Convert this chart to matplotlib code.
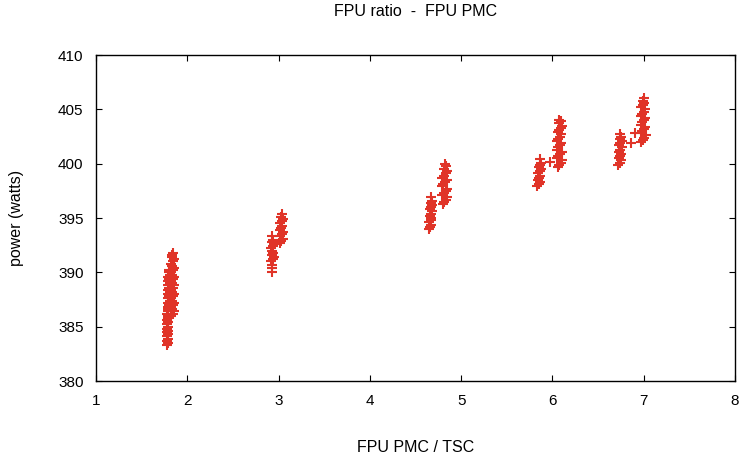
import matplotlib
matplotlib.use("Agg")
import matplotlib.pyplot as plt

plt.rcParams['font.family'] = ['Liberation Sans', 'DejaVu Sans']

# FPU ratio runs (x = FPU PMC / TSC, y = power in watts)
# each run is two dense vertical strips of samples
run1_x = [1.775, 1.785, 1.78, 1.79, 1.775, 1.785, 1.78, 1.79, 1.775, 1.785, 1.78, 1.79,
          1.78, 1.785, 1.79, 1.78, 1.785, 1.79,
          1.785, 1.80, 1.79, 1.81, 1.785, 1.80, 1.79, 1.81, 1.785, 1.80, 1.79, 1.81,
          1.785, 1.80, 1.79, 1.81, 1.795, 1.805,
          1.825, 1.84, 1.85, 1.835, 1.825, 1.84, 1.85, 1.835, 1.825, 1.84, 1.85, 1.835,
          1.825, 1.84, 1.85, 1.835, 1.825, 1.84, 1.85, 1.835, 1.825, 1.84, 1.85, 1.835,
          1.825, 1.84, 1.85, 1.835, 1.83, 1.84]
run1_y = [383.3, 383.5, 383.7, 383.9, 384.1, 384.3, 384.5, 384.6, 384.8, 385.0, 385.2, 385.4,
          385.6, 385.8, 386.0, 386.2, 386.4, 386.6,
          386.8, 387.0, 387.2, 387.4, 387.6, 387.8, 388.0, 388.2, 388.4, 388.6, 388.8, 389.0,
          389.2, 389.4, 389.6, 389.8, 390.0, 390.2,
          386.0, 386.2, 386.4, 386.6, 386.8, 387.0, 387.2, 387.4, 387.6, 387.8, 388.0, 388.2,
          388.4, 388.6, 388.8, 389.0, 389.2, 389.4, 389.6, 389.8, 390.0, 390.2, 390.4, 390.6,
          390.8, 391.0, 391.2, 391.4, 391.6, 391.8]

run2_x = [2.92, 2.935, 2.945, 2.925, 2.94, 2.93, 2.92, 2.935, 2.945, 2.925, 2.94, 2.93,
          2.93, 2.93, 2.93,
          3.015, 3.03, 3.045, 3.02, 3.035, 3.045, 3.015, 3.03, 3.04, 3.02, 3.035, 3.045,
          3.025, 3.035]
run2_y = [391.0, 391.2, 391.4, 391.6, 391.8, 392.0, 392.2, 392.4, 392.6, 392.8, 393.0, 393.3,
          390.7, 390.4, 390.0,
          392.7, 392.9, 393.1, 393.3, 393.5, 393.7, 393.9, 394.1, 394.3, 394.5, 394.7, 394.9,
          395.1, 395.4]

run3_x = [4.645, 4.66, 4.67, 4.65, 4.665, 4.675, 4.655, 4.67, 4.68, 4.66, 4.675, 4.685,
          4.665, 4.68, 4.675,
          4.80, 4.815, 4.83, 4.845, 4.79, 4.81, 4.83, 4.845, 4.79, 4.805, 4.825, 4.84,
          4.795, 4.81, 4.83, 4.845, 4.815, 4.83, 4.82]
run3_y = [394.0, 394.2, 394.4, 394.6, 394.8, 395.0, 395.2, 395.4, 395.6, 395.8, 396.0, 396.2,
          396.4, 396.6, 396.9,
          396.3, 396.5, 396.7, 396.9, 397.1, 397.3, 397.5, 397.7, 397.9, 398.1, 398.3, 398.5,
          398.7, 398.9, 399.1, 399.3, 399.5, 399.8, 400.0]

run4_x = [5.835, 5.85, 5.86, 5.84, 5.855, 5.865, 5.845, 5.86, 5.87, 5.85, 5.865, 5.875, 5.865,
          5.97,
          6.06, 6.075, 6.09, 6.1, 6.045, 6.065, 6.085, 6.1, 6.045, 6.065, 6.08, 6.095,
          6.045, 6.06, 6.08, 6.095, 6.06, 6.075, 6.09, 6.1, 6.07, 6.09, 6.075]
run4_y = [397.9, 398.1, 398.3, 398.5, 398.7, 398.9, 399.1, 399.3, 399.5, 399.7, 399.9, 400.1, 400.4,
          400.15,
          399.7, 399.9, 400.1, 400.3, 400.5, 400.7, 400.9, 401.1, 401.3, 401.5, 401.7, 401.9,
          402.1, 402.3, 402.5, 402.7, 402.9, 403.1, 403.3, 403.5, 403.7, 403.9, 404.0]

run5_x = [6.72, 6.735, 6.75, 6.725, 6.74, 6.755, 6.73, 6.745, 6.76, 6.73, 6.745, 6.76,
          6.735, 6.75, 6.745,
          6.86, 6.90,
          6.975, 6.99, 7.005, 7.02, 6.965, 6.985, 7.0, 7.015, 6.965, 6.98, 7.0, 7.015,
          6.965, 6.985, 7.0, 7.015, 6.975, 6.99, 7.005, 6.99, 7.0]
run5_y = [399.9, 400.1, 400.3, 400.5, 400.7, 400.9, 401.1, 401.3, 401.5, 401.7, 401.9, 402.1,
          402.3, 402.5, 402.7,
          401.9, 402.8,
          402.0, 402.2, 402.4, 402.6, 402.8, 403.0, 403.2, 403.4, 403.6, 403.8, 404.0, 404.2,
          404.4, 404.6, 404.8, 405.0, 405.2, 405.4, 405.6, 405.8, 406.0]

xs = run1_x + run2_x + run3_x + run4_x + run5_x
ys = run1_y + run2_y + run3_y + run4_y + run5_y

x_ticks = [1, 2, 3, 4, 5, 6, 7, 8]
y_ticks = [380, 385, 390, 395, 400, 405, 410]

fig = plt.figure(figsize=(7.4, 4.61), dpi=100)
ax = fig.add_axes([96 / 740, 80 / 461, 639 / 740, 326 / 461])

ax.plot(xs, ys, linestyle="none", marker="+", markersize=6.5, markeredgewidth=1.5,
        color="#e03428")

ax.set_xlim(1, 8)
ax.set_ylim(380, 410)
ax.set_xticks(x_ticks)
ax.set_yticks(y_ticks)
ax.tick_params(direction="in", length=4, width=0.8, top=True, right=True,
               labelsize=11, pad=9)
for s in ax.spines.values():
    s.set_linewidth(1.0)

fig.text(416 / 740, 1 - 12 / 461, "FPU ratio  -  FPU PMC", ha="center", va="center", fontsize=11.5)
fig.text(416 / 740, 1 - 447 / 461, "FPU PMC / TSC", ha="center", va="center", fontsize=11.5)
fig.text(17 / 740, 1 - 218 / 461, "power (watts)", ha="center", va="center",
         rotation=90, fontsize=11.5)

fig.savefig("out.png", dpi=100)
